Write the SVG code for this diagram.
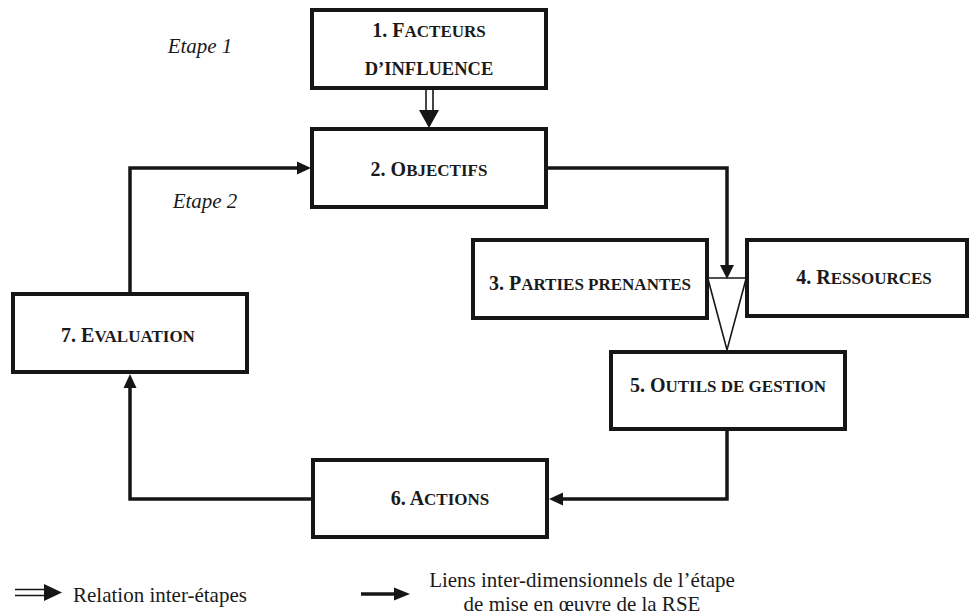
<svg xmlns="http://www.w3.org/2000/svg" width="969" height="616" viewBox="0 0 969 616">
<defs>
<style>
.box{fill:#fff;stroke:#161616;stroke-width:4}
.lbl{font-family:"Liberation Serif","Times New Roman",serif;font-weight:bold;fill:#1a1a1a;text-anchor:middle;font-size:20px}
.sc{font-size:17px}
.etape{font-family:"Liberation Serif","Times New Roman",serif;font-style:italic;font-size:21px;fill:#1a1a1a;text-anchor:middle}
.leg{font-family:"Liberation Serif","Times New Roman",serif;font-size:21px;fill:#1a1a1a}
.con{fill:none;stroke:#161616;stroke-width:3.5}
.thin{fill:none;stroke:#161616;stroke-width:1.6}
.head{fill:#161616}
</style>
</defs>
<rect width="969" height="616" fill="#fff"/>

<text class="etape" x="200" y="53">Etape 1</text>
<text class="etape" x="205" y="208">Etape 2</text>

<g id="connectors">
  <line class="thin" x1="426" y1="90" x2="426" y2="112" stroke-width="1.8"/>
  <line class="thin" x1="433" y1="90" x2="433" y2="112" stroke-width="1.8"/>
  <polygon class="head" points="419,110 439,110 429,128"/>
  <path class="con" d="M546,168 H727 V266" stroke-width="3"/>
  <polygon class="head" points="720,265 734,265 727,279"/>
  <line class="thin" x1="707" y1="278" x2="747" y2="278"/>
  <polyline class="thin" points="708,279 727,350 746,279"/>
  <path class="con" d="M727,429 V499 H560"/>
  <polygon class="head" points="549,499 563,492.5 563,505.5"/>
  <path class="con" d="M313,499 H130 V385"/>
  <polygon class="head" points="130,374 123.5,388 136.5,388"/>
  <path class="con" d="M130,294 V168 H300"/>
  <polygon class="head" points="311,168 297,161.5 297,174.5"/>
</g>

<g id="n1">
  <rect class="box" x="312" y="10" width="234" height="78"/>
  <text class="lbl" x="429" y="37">1. F<tspan class="sc">ACTEURS</tspan></text>
  <text class="lbl" x="429" y="75"><tspan class="sc" style="font-size:18.5px">D’INFLUENCE</tspan></text>
</g>
<g id="n2">
  <rect class="box" x="312" y="129" width="234" height="78"/>
  <text class="lbl" x="429" y="176">2. O<tspan class="sc">BJECTIFS</tspan></text>
</g>
<g id="n3">
  <rect class="box" x="473" y="240" width="234" height="78"/>
  <text class="lbl" x="590" y="290">3. P<tspan class="sc">ARTIES PRENANTES</tspan></text>
</g>
<g id="n4">
  <rect class="box" x="747" y="240" width="220" height="76"/>
  <text class="lbl" x="864" y="284">4. R<tspan class="sc">ESSOURCES</tspan></text>
</g>
<g id="n5">
  <rect class="box" x="611" y="352" width="234" height="77"/>
  <text class="lbl" x="728" y="392">5. O<tspan class="sc">UTILS DE GESTION</tspan></text>
</g>
<g id="n6">
  <rect class="box" x="313" y="460" width="234" height="77"/>
  <text class="lbl" x="440" y="505">6. A<tspan class="sc">CTIONS</tspan></text>
</g>
<g id="n7">
  <rect class="box" x="13" y="294" width="234" height="78"/>
  <text class="lbl" x="128" y="342">7. E<tspan class="sc">VALUATION</tspan></text>
</g>

<g id="legend">
  <line class="thin" x1="15" y1="589.5" x2="48" y2="589.5" stroke-width="1.8"/>
  <line class="thin" x1="15" y1="595.5" x2="48" y2="595.5" stroke-width="1.8"/>
  <polygon class="head" points="44,584 62,592.5 44,601"/>
  <line class="con" x1="361" y1="594" x2="396" y2="594" stroke-width="3"/>
  <polygon class="head" points="394,587.5 410,594 394,600.5"/>
  <text class="leg" x="73" y="602">Relation inter-étapes</text>
  <text class="leg" x="582" y="587" text-anchor="middle">Liens inter-dimensionnels de l’étape</text>
  <text class="leg" x="582" y="611" text-anchor="middle">de mise en œuvre de la RSE</text>
</g>
</svg>
